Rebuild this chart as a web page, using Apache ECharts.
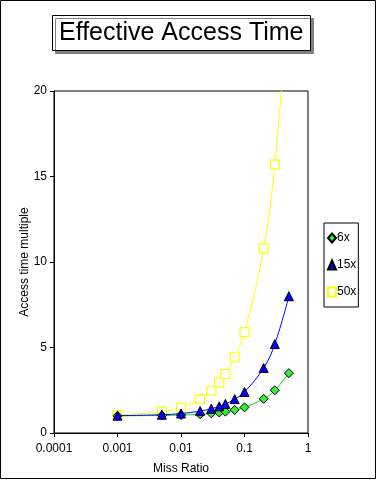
<!DOCTYPE html>
<html><head><meta charset="utf-8">
<script src="https://cdn.jsdelivr.net/npm/echarts@6/dist/echarts.min.js"></script>
<style>html,body{margin:0;padding:0;background:#fff}#c{width:378px;height:480px}</style>
</head><body><div id="c"></div>
<script>
var missRatio = [0.001, 0.005, 0.01, 0.02, 0.03, 0.04, 0.05, 0.07, 0.1, 0.2, 0.3, 0.5];
var s6x  = [1.005, 1.025, 1.05, 1.1, 1.15, 1.2, 1.25, 1.35, 1.5, 2.0, 2.5, 3.5];
var s15x = [1.014, 1.07, 1.14, 1.28, 1.42, 1.56, 1.7, 1.98, 2.4, 3.8, 5.2, 8.0];
var s50x = [1.05, 1.25, 1.49, 1.98, 2.47, 2.96, 3.45, 4.43, 5.9, 10.8, 15.7, 25.5];
var seriesNames = ['6x', '15x', '50x'];
var xTickLabels = ['0.0001', '0.001', '0.01', '0.1', '1'];
var yTicks = [0, 5, 10, 15, 20];

function pairs(ys){ return missRatio.map(function(x,i){ return [x, ys[i]]; }); }
var font = 'Liberation Sans, Arial, sans-serif';
var chart = echarts.init(document.getElementById('c'), null, {renderer:'canvas'});
chart.setOption({
  animation:false,
  backgroundColor:'#fff',
  title:{
    text:'Effective Access Time', left:52, top:15,
    padding:[6,7,5,7],
    backgroundColor:'#fff', borderColor:'#000', borderWidth:1,
    shadowColor:'#808080', shadowOffsetX:3, shadowOffsetY:3, shadowBlur:0,
    textStyle:{fontFamily:font, fontSize:25, fontWeight:'normal', color:'#000'}
  },
  graphic:[{type:'rect', shape:{x:0.5,y:0.5,width:375,height:478}, style:{fill:'none', stroke:'#000', lineWidth:1}, silent:true}],
  legend:{
    orient:'vertical', left:324, top:223, width:39, height:79,
    padding:[9,2,9,3], itemGap:15, itemWidth:8, itemHeight:9,
    borderColor:'#000', borderWidth:1, backgroundColor:'#fff',
    textStyle:{fontFamily:font, fontSize:12, color:'#000', padding:[0,0,0,-4]},
    data:[{name:'6x', icon:'diamond'},{name:'15x', icon:'triangle'},{name:'50x', icon:'rect'}]
  },
  grid:{left:54, right:70, top:91, bottom:47, show:true, borderColor:'#000', borderWidth:1, backgroundColor:'#fff'},
  xAxis:{
    type:'log', logBase:10, min:0.0001, max:1,
    name:'Miss Ratio', nameLocation:'middle', nameGap:30, nameMoveOverlap:false,
    nameTextStyle:{fontFamily:font, fontSize:12, color:'#000'},
    axisLine:{lineStyle:{color:'#000', width:1}},
    axisTick:{inside:false, length:4, lineStyle:{color:'#000'}},
    axisLabel:{fontFamily:font, fontSize:12, color:'#000', margin:10,
      formatter:function(v){ var k=Math.round(Math.log10(v))+4; return xTickLabels[k]||''; }},
    splitLine:{show:false}
  },
  yAxis:{
    type:'value', min:yTicks[0], max:yTicks[yTicks.length-1], interval:5,
    name:'Access time multiple', nameLocation:'middle', nameGap:23, nameRotate:90, nameMoveOverlap:false,
    nameTextStyle:{fontFamily:font, fontSize:12, color:'#000'},
    axisLine:{show:true, lineStyle:{color:'#000', width:1}},
    axisTick:{show:true, inside:false, length:4, lineStyle:{color:'#000'}},
    axisLabel:{fontFamily:font, fontSize:12, color:'#000', margin:7},
    splitLine:{show:false}
  },
  series:[
    {name:seriesNames[0], type:'line', data:pairs(s6x), smooth:0.4, symbol:'diamond', symbolSize:9, z:3,
     lineStyle:{color:'#00dd00', width:1}, itemStyle:{color:'#33ee33', borderColor:'#000', borderWidth:1}},
    {name:seriesNames[1], type:'line', data:pairs(s15x), smooth:0.4, symbol:'triangle', symbolSize:9, z:4,
     lineStyle:{color:'#0000ff', width:1}, itemStyle:{color:'#0000ff', borderColor:'#000', borderWidth:1}},
    {name:seriesNames[2], type:'line', data:pairs(s50x), smooth:0.4, symbol:'rect', symbolSize:9, z:2,
     lineStyle:{color:'#ffff00', width:1}, itemStyle:{color:'#fff', borderColor:'#ffff00', borderWidth:1.2}}
  ]
});
</script></body></html>
